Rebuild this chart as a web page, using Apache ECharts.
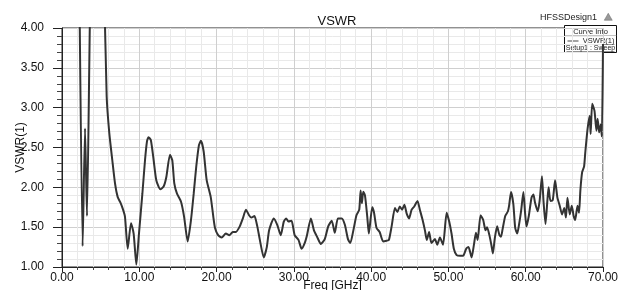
<!DOCTYPE html>
<html>
<head>
<meta charset="utf-8">
<script src="https://cdn.jsdelivr.net/npm/echarts@6/dist/echarts.min.js"></script>
<style>
    html, body { margin: 0; padding: 0; background: #fff; }
    #main { width: 618px; height: 290px; }
</style>
</head>
<body>
<div id="main"></div>
<script>
// sweep points, GHz
var freq = [
    2.2, 2.67, 2.98, 3.23, 3.68, 4.5, 5.45, 5.78, 6.12, 6.51, 6.86, 7.2, 7.55, 7.9, 8.15, 8.5, 8.93, 9.27, 9.62, 9.96,
    10.4, 10.74, 11.0, 11.2, 11.5, 11.86, 12.2, 12.72, 13.15, 13.5, 13.97, 14.27, 14.53, 14.88, 15.4, 15.8, 16.26, 16.69, 17.04, 17.37,
    17.72, 17.98, 18.33, 18.72, 19.24, 19.58, 19.8, 20.2, 20.66, 21.2, 21.65, 22.1, 22.5, 23.0, 23.4, 23.8, 24.2, 24.5, 24.9, 25.27,
    25.6, 26.1, 26.5, 26.8, 27.4, 27.85, 28.3, 28.7, 29.0, 29.3, 29.7, 30.1, 30.6, 31.0, 31.4, 31.7, 32.2, 32.6, 33.0, 33.5,
    34.0, 34.45, 34.9, 35.3, 35.7, 36.2, 36.6, 37.0, 37.3, 37.7, 38.1, 38.46, 38.64, 38.8, 38.98, 39.2, 39.5, 39.7, 40.14, 40.36,
    40.7, 41.1, 41.56, 42.0, 42.3, 42.65, 43.08, 43.4, 43.7, 44.0, 44.3, 44.6, 44.9, 45.24, 45.58, 45.8, 46.0, 46.3, 46.66, 46.96,
    47.2, 47.5, 47.8, 48.25, 48.55, 48.9, 49.3, 49.77, 50.1, 50.4, 50.7, 51.06, 51.5, 51.9, 52.3, 52.6, 53.0, 53.3, 53.56, 53.78,
    54.16, 54.5, 54.8, 55.0, 55.3, 55.55, 55.75, 56.0, 56.3, 56.6, 56.8, 57.0, 57.35, 57.7, 57.85, 58.1, 58.4, 58.64, 58.9, 59.1,
    59.4, 59.7, 59.9, 60.1, 60.4, 60.75, 61.0, 61.2, 61.55, 61.8, 62.1, 62.3, 62.56, 62.8, 62.96, 63.2, 63.5, 63.8, 64.1, 64.4,
    64.7, 64.99, 65.2, 65.4, 65.7, 65.96, 66.2, 66.4, 66.7, 66.9, 67.07, 67.3, 67.55, 67.7, 68.0, 68.27, 68.4, 68.6, 68.9, 69.15,
    69.3, 69.5, 69.7, 69.85, 70.0
];
var vswr = [
    5.0, 1.26, 2.74, 1.64, 4.5, 7.0, 4.5, 3.14, 2.68, 2.34, 2.05, 1.88, 1.81, 1.72, 1.63, 1.23, 1.55, 1.42, 1.03, 1.42,
    1.92, 2.34, 2.58, 2.63, 2.59, 2.34, 2.09, 1.975, 2.01, 2.13, 2.41, 2.34, 2.05, 1.92, 1.82, 1.63, 1.32, 1.59, 1.92, 2.26,
    2.53, 2.585, 2.45, 2.09, 1.88, 1.63, 1.49, 1.40, 1.37, 1.42, 1.40, 1.44, 1.44, 1.51, 1.61, 1.72, 1.65, 1.62, 1.64, 1.51,
    1.34, 1.12, 1.25, 1.46, 1.61, 1.53, 1.40, 1.57, 1.61, 1.57, 1.58, 1.40, 1.34, 1.23, 1.30, 1.40, 1.61, 1.46, 1.38, 1.29,
    1.35, 1.51, 1.58, 1.43, 1.61, 1.61, 1.53, 1.35, 1.30, 1.46, 1.65, 1.72, 1.96, 1.80, 1.945, 1.90, 1.63, 1.42, 1.75, 1.69,
    1.49, 1.44, 1.32, 1.33, 1.34, 1.51, 1.74, 1.69, 1.76, 1.72, 1.78, 1.67, 1.61, 1.72, 1.76, 1.80, 1.83, 1.72, 1.59, 1.46,
    1.34, 1.44, 1.30, 1.35, 1.28, 1.37, 1.28, 1.68, 1.57, 1.42, 1.23, 1.15, 1.14, 1.14, 1.23, 1.25, 1.12, 1.28, 1.43, 1.34,
    1.65, 1.59, 1.46, 1.50, 1.40, 1.28, 1.17, 1.36, 1.51, 1.40, 1.38, 1.47, 1.64, 1.70, 1.77, 1.94, 1.79, 1.49, 1.42, 1.51,
    1.70, 1.94, 1.70, 1.51, 1.64, 1.87, 1.91, 1.81, 1.70, 1.83, 2.14, 1.83, 1.54, 1.83, 2.00, 1.83, 1.84, 2.09, 1.87, 1.77,
    1.66, 1.74, 1.62, 1.87, 1.66, 1.77, 1.64, 1.59, 1.77, 1.68, 1.96, 2.19, 2.26, 2.43, 2.73, 2.90, 2.67, 3.05, 2.96, 2.71,
    2.86, 2.69, 2.79, 2.64, 3.80
];

var xMin = 0, xMax = 70, xStep = 10;
var yMin = 1, yMax = 4, yStep = 0.5;

var font = 'Liberation Sans';
var chart = echarts.init(document.getElementById('main'));

var points = freq.map(function (f, i) { return [f, vswr[i]]; });

var option = {
    animation: false,
    title: {
        text: 'VSWR',
        left: 332,
        textAlign: 'center',
        top: 10,
        textStyle: { fontFamily: font, fontSize: 13, fontWeight: 'normal', color: '#111' }
    },
    grid: {
        left: 62, right: 15, top: 28, bottom: 23,
        outerBoundsMode: 'none',
        containLabel: false,
        show: true, borderColor: '#222', borderWidth: 1, backgroundColor: '#fff'
    },
    xAxis: {
        type: 'value',
        min: xMin, max: xMax, interval: xStep,
        name: 'Freq [GHz]',
        nameLocation: 'middle',
        nameGap: 13,
        nameMoveOverlap: false,
        nameTextStyle: { fontFamily: font, fontSize: 12, color: '#111' },
        axisLine: { show: true, lineStyle: { color: '#222', width: 1 } },
        axisTick: { show: true, inside: false, length: 5, lineStyle: { color: '#222' } },
        minorTick: { show: true, splitNumber: 5, length: 3, lineStyle: { color: '#444' } },
        axisLabel: {
            margin: 5, fontFamily: font, fontSize: 12, color: '#111',
            formatter: function (v) { return v.toFixed(2); }
        },
        splitLine: { show: true, lineStyle: { color: '#cfcfcf', width: 1 } },
        minorSplitLine: { show: true, lineStyle: { color: '#e9e9e9', width: 1 } }
    },
    yAxis: {
        type: 'value',
        min: yMin, max: yMax, interval: yStep,
        name: 'VSWR(1)',
        nameLocation: 'middle',
        nameGap: 35,
        nameMoveOverlap: false,
        nameTextStyle: { fontFamily: font, fontSize: 12, color: '#111' },
        axisLine: { show: true, lineStyle: { color: '#222', width: 1 } },
        axisTick: { show: true, inside: false, length: 9, lineStyle: { color: '#222' } },
        minorTick: { show: true, splitNumber: 5, length: 5, lineStyle: { color: '#444' } },
        axisLabel: {
            margin: 18, fontFamily: font, fontSize: 12, color: '#111',
            formatter: function (v) { return v.toFixed(2); }
        },
        splitLine: { show: true, lineStyle: { color: '#cfcfcf', width: 1 } },
        minorSplitLine: { show: true, lineStyle: { color: '#e9e9e9', width: 1 } }
    },
    graphic: [
        {
            type: 'text', left: 540, top: 13,
            style: { text: 'HFSSDesign1', fontFamily: font, fontSize: 9, fill: '#222' }
        },
        {
            type: 'polygon', left: 604, top: 13,
            shape: { points: [[4, 0], [8, 7], [0, 7]] },
            style: { fill: '#999', stroke: '#666', lineWidth: 0.5 }
        },
        {
            type: 'group', left: 562, top: 25, z: 100,
            children: [
                { type: 'rect', shape: { x: 0, y: 0, width: 52, height: 27 }, style: { fill: '#fff', stroke: '#111', lineWidth: 1 } },
                { type: 'line', shape: { x1: 0, y1: 10, x2: 52, y2: 10 }, style: { stroke: '#888', lineWidth: 0.5 } },
                { type: 'text', x: 26, y: 2, style: { text: 'Curve Info', fontFamily: font, fontSize: 7.5, fill: '#222', align: 'center' } },
                { type: 'line', shape: { x1: 3, y1: 15.5, x2: 14, y2: 15.5 }, style: { stroke: '#666', lineWidth: 1.2 } },
                { type: 'text', x: 50, y: 11.5, style: { text: 'VSWR(1)', fontFamily: font, fontSize: 7.5, fill: '#222', align: 'right' } },
                { type: 'line', shape: { x1: 24, y1: 19, x2: 50, y2: 19 }, style: { stroke: '#222', lineWidth: 0.5 } },
                { type: 'text', x: 26, y: 19.2, style: { text: 'Setup1 : Sweep', fontFamily: font, fontSize: 7, fill: '#222', align: 'center' } },
                { type: 'line', shape: { x1: 2, y1: 26, x2: 50, y2: 26 }, style: { stroke: '#222', lineWidth: 0.5 } }
            ]
        }
    ],
    series: [
        {
            name: 'VSWR(1)',
            type: 'line',
            data: points,
            showSymbol: false,
            smooth: 0.2,
            clip: true,
            lineStyle: { color: '#333', width: 2 }
        }
    ]
};

chart.setOption(option);
</script>
</body>
</html>
